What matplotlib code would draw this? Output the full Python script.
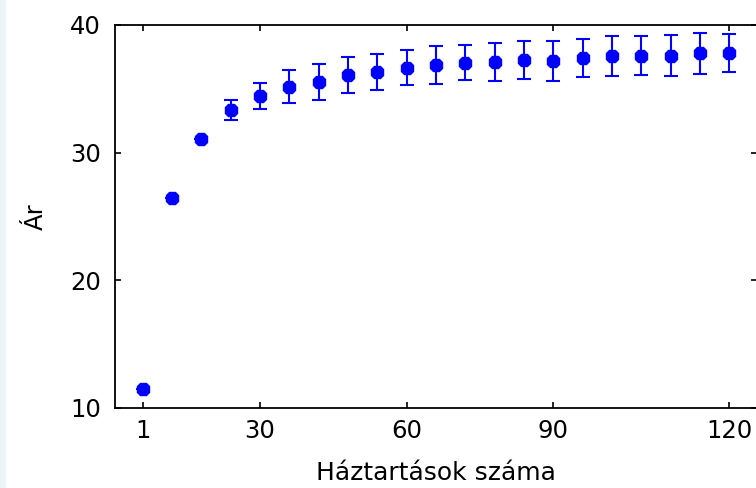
import numpy as np
import matplotlib.pyplot as plt
from matplotlib.patches import Rectangle

# data (x is the point index, ticks relabelled)
pos = np.arange(1, 22)
ar = [11.45, 26.47, 31.07, 33.34, 34.44, 35.17, 35.56, 36.08, 36.34, 36.66, 36.87,
      37.05, 37.08, 37.26, 37.2, 37.39, 37.57, 37.6, 37.6, 37.78, 37.78]
err = [0.0, 0.0, 0.0, 0.76, 1.02, 1.3, 1.42, 1.4, 1.41, 1.37, 1.47,
       1.37, 1.48, 1.47, 1.57, 1.49, 1.59, 1.5, 1.6, 1.6, 1.5]
tick_pos = [1, 5, 10, 15, 21]
tick_lab = ['1', '30', '60', '90', '120']

plt.rcParams['font.family'] = ['DejaVu Sans']

fig = plt.figure(figsize=(7.56, 4.88), dpi=100)
fig.patches.append(Rectangle((0, 0), 6/756, 1, transform=fig.transFigure,
                             facecolor='#eef3f9', edgecolor='none', zorder=0))
ax = fig.add_axes([115/756, 1 - 407.7/488, 642/756, (407.7 - 25)/488])

ax.errorbar(pos, ar, yerr=err, fmt='8', color='#0000ff', ms=9.5,
            ecolor='#0000ff', elinewidth=1.5, capsize=5, capthick=1.5)

ax.set_xlim(0.05, 21.95)
ax.set_ylim(10, 40)
ax.set_xticks(tick_pos)
ax.set_xticklabels(tick_lab)
ax.set_yticks([10, 20, 30, 40])

ax.tick_params(direction='in', length=4, width=1.2, top=True, right=True,
               labelsize=17.5, pad=8)
ax.tick_params(axis='y', pad=10)
for s in ax.spines.values():
    s.set_linewidth(1.3)

ax.set_xlabel('Háztartások száma', fontsize=18, labelpad=13)
ax.set_ylabel('Ár', fontsize=17.5, labelpad=16)

fig.savefig('out.png', dpi=100)
